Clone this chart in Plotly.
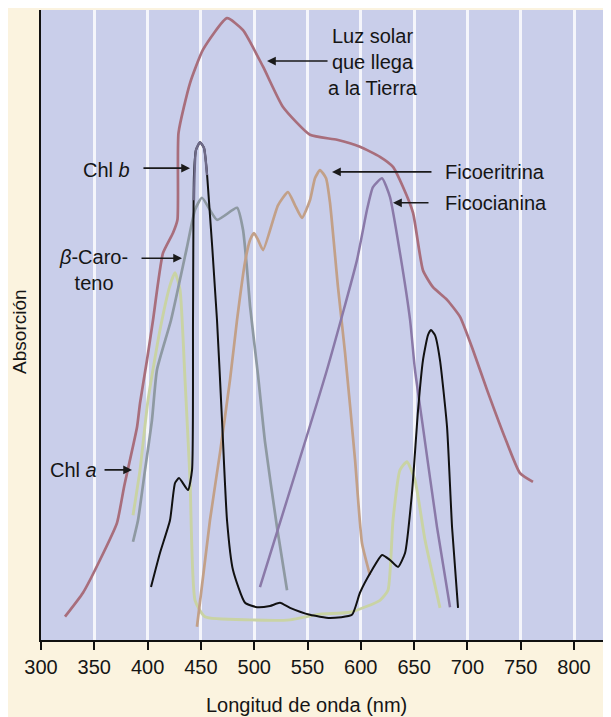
import plotly.graph_objects as go

# Longitudes de onda (nm) y absorción relativa (0-100)
sol_nm = [322.5, 339.4, 355.3, 371.3, 377.9, 390.1, 392.9, 399.4, 405.1, 414.4, 423.8, 428.0,
          429.0, 439.8, 452.0, 474.5, 489.5, 508.3, 527.0, 552.3, 577.7, 599.2, 618.0, 630.2,
          639.6, 649.0, 658.3, 667.7, 680.9, 693.1, 705.3, 718.4, 737.1, 749.3, 761.5]
sol_abs = [3.7, 7.5, 12.7, 18.6, 24.3, 33.8, 37.6, 44.4, 50.8, 61.4, 64.6, 66.7,
           80.5, 88.4, 93.7, 98.7, 96.8, 91.0, 84.6, 80.2, 79.4, 78.3, 76.7, 75.1,
           71.9, 67.8, 58.7, 56.0, 54.0, 51.3, 46.0, 39.7, 31.3, 26.5, 25.1]

verde_nm = [386.3, 392.9, 400.4, 411.6, 421.0, 425.7, 430.4, 435.1, 439.8, 444.5, 453.8, 496.1,
            533.6, 561.7, 589.9, 618.0, 625.5, 630.2, 636.8, 643.3, 650.8, 660.2, 674.3]
verde_abs = [19.8, 27.0, 38.1, 49.2, 56.3, 58.3, 55.6, 41.3, 25.4, 6.3, 3.7, 3.2,
             3.2, 4.1, 4.4, 6.3, 7.9, 19.0, 27.0, 28.3, 25.4, 15.9, 5.1]

caroteno_nm = [386.3, 391.0, 397.6, 404.1, 408.8, 422.0, 437.0, 444.5, 451.0, 465.1, 483.9,
               489.5, 493.2, 496.1, 503.6, 510.1, 521.4, 530.8]
caroteno_abs = [15.6, 19.0, 27.0, 34.9, 42.9, 50.8, 62.4, 68.3, 70.2, 66.7, 68.6,
                65.1, 59.0, 53.0, 42.0, 31.5, 17.9, 7.9]

ficoeritrina_nm = [446.3, 458.5, 467.9, 477.3, 483.9, 491.4, 496.1, 499.8, 503.6, 508.3, 522.3,
                   531.7, 538.3, 544.8, 552.3, 557.0, 561.7, 567.4, 571.1, 578.6, 585.2, 594.6,
                   601.1, 608.6]
ficoeritrina_abs = [2.1, 19.0, 29.7, 41.3, 50.8, 60.0, 63.5, 64.6, 63.5, 61.9, 69.0,
                    71.1, 69.0, 67.0, 69.8, 73.3, 74.6, 73.3, 69.4, 56.0, 45.6, 28.6,
                    15.4, 10.3]

ficocianina_nm = [505.4, 568.3, 596.4, 605.8, 611.4, 619.9, 627.4, 636.8, 646.2, 650.8, 658.3,
                  671.5, 683.7]
ficocianina_abs = [8.4, 42.9, 60.3, 68.3, 71.9, 73.3, 70.3, 61.4, 50.8, 42.9, 33.8,
                   17.9, 5.2]

negra_nm = [403.2, 411.6, 421.0, 425.7, 429.5, 437.9, 441.7, 442.6, 443.5, 445.4, 449.2, 452.9,
            455.7, 465.1, 469.8, 474.5, 480.1, 491.4, 502.6, 514.8, 524.2, 533.6, 552.3, 571.1,
            591.7, 599.2, 610.5, 619.9, 627.4, 634.9, 641.5, 648.0, 653.7, 658.3, 663.0, 665.8,
            669.6, 674.3, 680.9, 685.6, 691.2]
negra_abs = [8.4, 13.8, 19.0, 24.9, 25.7, 23.8, 27.0, 50.8, 73.8, 77.8, 79.0, 78.1,
             74.1, 50.8, 34.9, 19.0, 11.1, 5.9, 5.2, 5.4, 5.9, 5.1, 4.0, 3.5,
             4.0, 7.5, 11.1, 13.5, 12.7, 11.6, 13.8, 23.3, 36.5, 44.4, 48.4, 49.2,
             48.4, 44.4, 33.8, 17.9, 5.1]

chlb_nm = [443.5, 445.4, 449.2, 452.9, 455.7]
chlb_abs = [69.8, 77.8, 79.0, 78.1, 73.8]

x_ticks = [300, 350, 400, 450, 500, 550, 600, 650, 700, 750, 800]

FONT = "Liberation Sans, Arial, sans-serif"
TXT = "#151515"

fig = go.Figure()

curvas = [
    (sol_nm, sol_abs, "Luz solar", "#A86E7C", 2.7),
    (verde_nm, verde_abs, "Chl a", "#C9D3A4", 2.9),
    (caroteno_nm, caroteno_abs, "β-Caroteno", "#8E99A2", 2.7),
    (ficoeritrina_nm, ficoeritrina_abs, "Ficoeritrina", "#C2A088", 2.7),
    (ficocianina_nm, ficocianina_abs, "Ficocianina", "#8A79A8", 2.5),
    (negra_nm, negra_abs, "Chl (negra)", "#111111", 2.0),
    (chlb_nm, chlb_abs, "Chl b", "#6E6A88", 2.4),
]
for xs, ys, nombre, color, ancho in curvas:
    fig.add_trace(go.Scatter(
        x=xs, y=ys, name=nombre, mode="lines",
        line=dict(color=color, width=ancho, shape="spline", smoothing=0.5),
        hoverinfo="skip",
    ))

# textos de las curvas
textos = [
    (611.4, 91.8, "Luz solar<br>que llega<br>a la Tierra", "center"),
    (385.4, 74.6, "Chl <i>b</i>", "right"),
    (349.7, 58.7, "<i>β</i>-Caro-<br>teno", "center"),
    (306.6, 27.0, "Chl <i>a</i>", "left"),
    (677.1, 74.3, "Ficoeritrina", "left"),
    (677.1, 69.4, "Ficocianina", "left"),
]
for x, y, t, anc in textos:
    fig.add_annotation(x=x, y=y, text=t, showarrow=False, xanchor=anc, yanchor="middle",
                       align="center", font=dict(family=FONT, size=20, color=TXT))

# flechas (cola -> punta)
flechas = [
    (570.2, 91.9, 512.0, 91.9),
    (394.7, 74.9, 439.8, 74.9),
    (392.9, 60.6, 432.3, 60.6),
    (358.2, 27.0, 385.4, 27.0),
    (667.7, 74.3, 573.0, 74.3),
    (664.9, 69.4, 630.2, 69.4),
]
for x0, y0, x1, y1 in flechas:
    fig.add_annotation(x=x1, y=y1, ax=x0, ay=y0, axref="x", ayref="y", text="",
                       showarrow=True, arrowhead=2, arrowsize=1.1, arrowwidth=1.6,
                       arrowcolor="#1a1a1a", standoff=0)

# títulos de los ejes
fig.add_annotation(x=0.465, y=-0.103, xref="paper", yref="paper", text="Longitud de onda (nm)",
                   showarrow=False, xanchor="center", yanchor="middle",
                   font=dict(family=FONT, size=20, color=TXT))
fig.add_annotation(x=-0.0375, y=0.49, xref="paper", yref="paper", text="Absorción",
                   textangle=-90, showarrow=False, xanchor="center", yanchor="middle",
                   font=dict(family=FONT, size=19, color=TXT))

# la página deja 8 px de margen: el área del gráfico queda en x 41-611, y 10-640
fig.update_layout(
    width=611, height=717,
    margin=dict(l=33, r=8, t=2, b=85),
    paper_bgcolor="#FBF3DF",
    plot_bgcolor="#C9CEEA",
    showlegend=False,
    font=dict(family=FONT, size=20, color=TXT),
    xaxis=dict(
        range=[300, 834.7], tickvals=x_ticks, ticks="outside", ticklen=8, tickwidth=1.5,
        tickcolor="#111", showline=True, linecolor="#111", linewidth=1.5,
        showgrid=True, gridcolor="rgba(255,255,255,0.8)", gridwidth=3, zeroline=False,
        tickfont=dict(family=FONT, size=20, color=TXT), automargin=False,
    ),
    yaxis=dict(
        range=[0, 100], showticklabels=False, ticks="", showgrid=False, zeroline=False,
        showline=True, linecolor="#111", linewidth=1.5, automargin=False,
    ),
)

fig.write_html("out.html")
